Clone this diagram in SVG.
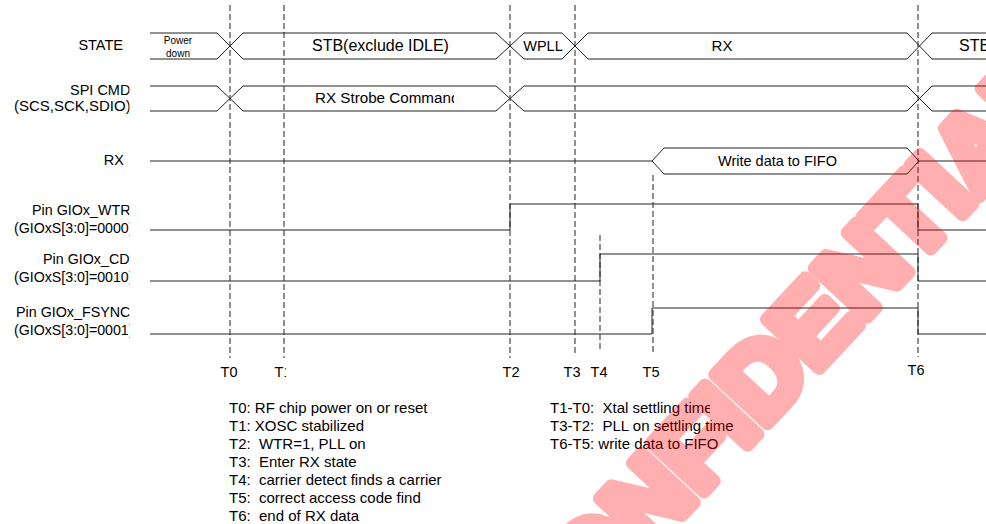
<svg xmlns="http://www.w3.org/2000/svg" width="986" height="524" viewBox="0 0 986 524">
<style>
  .t { font-family: "Liberation Sans", Arial, sans-serif; fill: #000; }
  .lbl { font-size: 14.3px; }
  .note { font-size: 15px; }
  .wave { fill: none; stroke: #222; stroke-width: 1; }
  .dash { fill: none; stroke: #222; stroke-width: 1; stroke-dasharray: 6 3; }
</style>
<defs>
  <clipPath id="cLbl"><rect x="0" y="0" width="129.5" height="524"/></clipPath>
  <clipPath id="cStrobe"><rect x="0" y="0" width="454" height="524"/></clipPath>
  <clipPath id="cFifo"><rect x="0" y="0" width="837" height="524"/></clipPath>
  <clipPath id="cT1"><rect x="0" y="0" width="286" height="524"/></clipPath>
  <clipPath id="cXtal"><rect x="0" y="0" width="710" height="524"/></clipPath>
  <clipPath id="cPll"><rect x="0" y="0" width="365" height="524"/></clipPath>
</defs>
<rect width="986" height="524" fill="#fff"/>

<g id="labels" class="t lbl" clip-path="url(#cLbl)">
  <text x="123" y="50" text-anchor="end" font-size="14.5">STATE</text>
  <text x="70" y="95" font-size="14.5">SPI CMD</text>
  <text x="14" y="111" font-size="15">(SCS,SCK,SDIO)</text>
  <text x="124" y="165" text-anchor="end" font-size="14.5">RX</text>
  <text x="32" y="215">Pin GIOx_WTR</text>
  <text x="14" y="233" font-size="14.2">(GIOxS[3:0]=0000)</text>
  <text x="43" y="264">Pin GIOx_CD</text>
  <text x="14" y="282" font-size="14.2">(GIOxS[3:0]=0010)</text>
  <text x="16" y="317">Pin GIOx_FSYNC</text>
  <text x="14" y="335" font-size="14.2">(GIOxS[3:0]=0001)</text>
</g>

<g id="connectors">
  <g id="sig-state">
    <path class="wave" d="M150 33 H217 L243 59 H496 L524 33 H562 L588 59 H907 L932 33 H986"/>
    <path class="wave" d="M150 59 H217 L243 33 H496 L524 59 H562 L588 33 H907 L932 59 H986"/>
    <text class="t" x="178" y="44" font-size="10" text-anchor="middle">Power</text>
    <text class="t" x="178" y="57" font-size="10" text-anchor="middle">down</text>
    <text class="t" x="312" y="51" font-size="16">STB(exclude IDLE)</text>
    <text class="t" x="543" y="51" font-size="14.5" text-anchor="middle">WPLL</text>
    <text class="t" x="722" y="51" font-size="15" text-anchor="middle">RX</text>
    <text class="t" x="959" y="51" font-size="16">STB</text>
  </g>
  <g id="sig-spi">
    <path class="wave" d="M150 86 H217 L243 111 H496 L524 86 H907 L932 111 H986"/>
    <path class="wave" d="M150 111 H217 L243 86 H496 L524 111 H907 L932 86 H986"/>
    <text class="t" x="315" y="103" font-size="15.2" clip-path="url(#cStrobe)">RX Strobe Command</text>
  </g>
  <g id="sig-rx">
    <path class="wave" d="M150 161 H652 M652 161 L664 148 H907 L919 161 L907 174 H664 Z M919 161 H986"/>
    <text class="t" x="718" y="166" font-size="14.5" clip-path="url(#cFifo)">Write data to FIFO</text>
  </g>
  <g id="sig-wtr">
    <path class="wave" d="M150 230 H510 V204 H918 V230 H986"/>
  </g>
  <g id="sig-cd">
    <path class="wave" d="M150 281 H600 V254 H918 V281 H986"/>
  </g>
  <g id="sig-fsync">
    <path class="wave" d="M150 334 H652 V308 H918 V334 H986"/>
  </g>
  <g id="time-markers">
    <line class="dash" x1="230" y1="5" x2="230" y2="358"/>
    <line class="dash" x1="284" y1="5" x2="284" y2="358"/>
    <line class="dash" x1="510" y1="5" x2="510" y2="358"/>
    <line class="dash" x1="575" y1="5" x2="575" y2="354"/>
    <line class="dash" x1="600" y1="235" x2="600" y2="352"/>
    <line class="dash" x1="653" y1="175" x2="653" y2="355"/>
    <line class="dash" x1="918" y1="5" x2="918" y2="357"/>
  </g>
</g>

<g id="time-labels" class="t" font-size="14.5">
  <text x="229" y="377" text-anchor="middle">T0</text>
  <text x="283" y="377" text-anchor="middle" clip-path="url(#cT1)">T1</text>
  <text x="511" y="377" text-anchor="middle">T2</text>
  <text x="572" y="377" text-anchor="middle">T3</text>
  <text x="599" y="377" text-anchor="middle">T4</text>
  <text x="651" y="377" text-anchor="middle">T5</text>
  <text x="916" y="375" text-anchor="middle">T6</text>
</g>

<g id="legend-left" class="t note">
  <text x="229" y="413">T0: RF chip power on or reset</text>
  <text x="229" y="431">T1: XOSC stabilized</text>
  <text x="229" y="449" clip-path="url(#cPll)">T2:&#160; WTR=1, PLL on</text>
  <text x="229" y="467">T3:&#160; Enter RX state</text>
  <text x="229" y="485">T4:&#160; carrier detect finds a carrier</text>
  <text x="229" y="503">T5:&#160; correct access code find</text>
  <text x="229" y="521">T6:&#160; end of RX data</text>
</g>

<g id="legend-right" class="t note">
  <text x="550" y="413" clip-path="url(#cXtal)">T1-T0:&#160; Xtal settling time</text>
  <text x="550" y="431">T3-T2:&#160; PLL on settling time</text>
  <text x="550" y="449">T6-T5: write data to FIFO</text>
</g>

<g id="watermark" opacity="0.31">
  <text x="540" y="668" transform="rotate(-47 540 668)" font-family="'Liberation Sans', Arial, sans-serif" font-size="105" font-weight="bold" fill="#f00" stroke="#f00" stroke-width="13" stroke-linejoin="round">CONFIDENTIAL</text>
</g>
</svg>
